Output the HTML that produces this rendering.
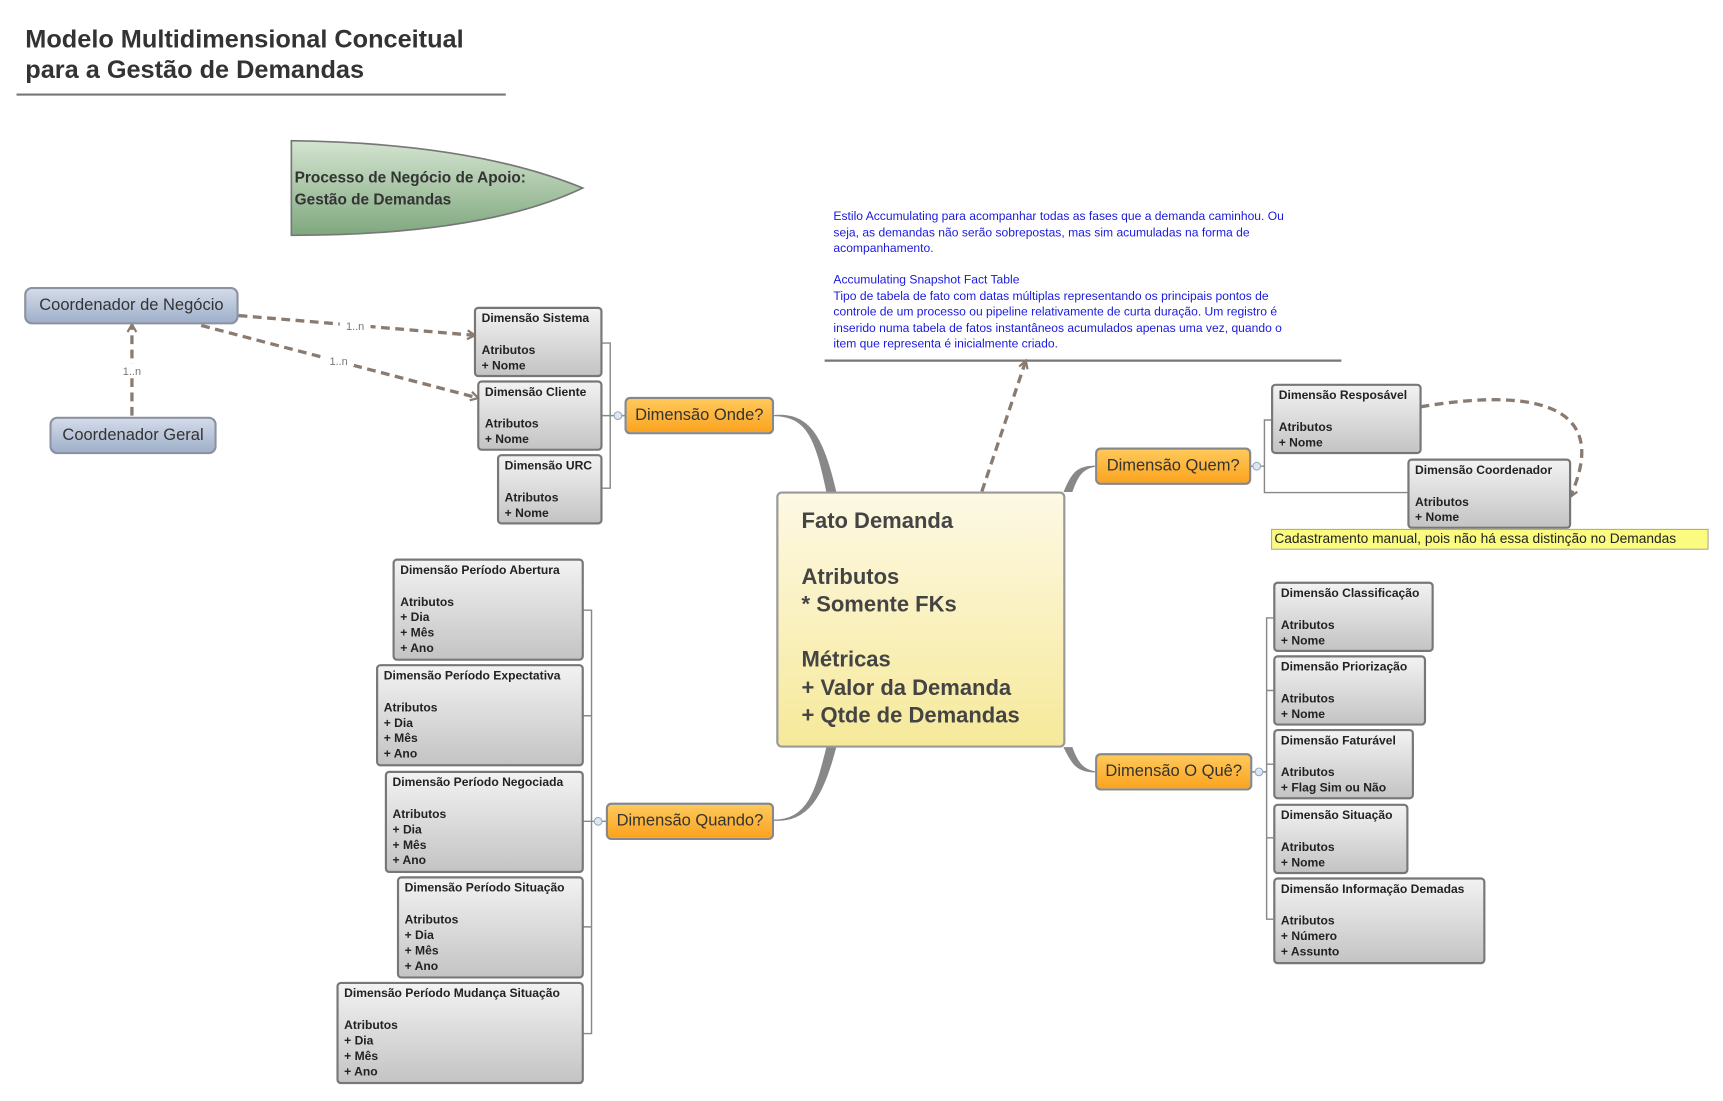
<!DOCTYPE html>
<html><head><meta charset="utf-8">
<style>
html,body{margin:0;padding:0;background:#fff;width:1723px;height:1101px;overflow:hidden}
#w{position:absolute;left:0;top:0;width:1561px;height:997px;transform:scale(1.0995);transform-origin:0 0;font-family:"Liberation Sans",sans-serif}
.a{position:absolute;box-sizing:border-box;white-space:nowrap}
.d{border:2px solid #777;border-radius:4px;background:linear-gradient(#f2f2f2,#c4c4c4);font-size:11px;font-weight:bold;color:#222;padding:2px 5px;line-height:14.3px}
.o{border:2px solid #888;border-radius:5px;background:linear-gradient(#ffc95a,#fba31f);font-size:15px;color:#333;text-align:center;line-height:30px}
.b{border:2px solid #8a92a3;border-radius:7px;background:linear-gradient(#d3dbe8,#9fb0cb);font-size:15px;color:#333;text-align:center;line-height:30px}
svg{position:absolute;left:0;top:0}
</style></head><body><div id="w">
<svg width="1561" height="997" viewBox="0 0 1561 997">
<defs><marker id="ar" markerWidth="10" markerHeight="10" refX="8" refY="5" orient="auto" markerUnits="userSpaceOnUse"><path d="M1,1 L8,5 L1,9" fill="none" stroke="#8a7b70" stroke-width="2"/></marker>
<linearGradient id="g" x1="0" y1="0" x2="0" y2="1"><stop offset="0" stop-color="#d4e4d0"/><stop offset="1" stop-color="#7fa87e"/></linearGradient></defs>
<line x1="15" y1="86" x2="460" y2="86" stroke="#777" stroke-width="2"/>
<path d="M265,128 Q430,130 530,171 Q440,214 265,214 Z" fill="url(#g)" stroke="#777" stroke-width="1.5"/>
<line x1="750" y1="328" x2="1220" y2="328" stroke="#777" stroke-width="2"/>
<g fill="none" stroke="#8a7b70" stroke-width="3" stroke-dasharray="8,5">
<path d="M217,287 L432,305" marker-end="url(#ar)"/>
<path d="M183,296 L435,362" marker-end="url(#ar)"/>
<path d="M120,378 L120,295" marker-end="url(#ar)"/>
<path d="M893,447 L933,328" marker-end="url(#ar)"/>
<path d="M1292,370 C1380,355 1470,360 1428,452" marker-end="url(#ar)"/>
</g>
<rect x="309" y="290" width="28" height="11" fill="#fff"/><rect x="294" y="322" width="28" height="11" fill="#fff"/><rect x="109" y="331" width="22" height="11" fill="#fff"/>
<g font-family="Liberation Sans,sans-serif" font-size="10" fill="#777" text-anchor="middle">
<text x="323" y="300">1..n</text><text x="308" y="332">1..n</text><text x="120" y="341">1..n</text>
</g>
<g fill="#888" stroke="#888">
<path d="M703,378 C735,378 742,400 752,447 L760,447 C748,395 735,375 703,378Z"/>
<path d="M703,746 C735,746 742,720 752,680 L760,680 C748,725 735,748 703,746Z"/>
<path d="M996,424 C980,424 975,430 968,447 L975,447 C980,432 985,426 996,424Z"/>
<path d="M996,702 C980,702 975,695 968,680 L975,680 C980,694 985,700 996,702Z"/>
</g>
<g fill="none" stroke="#888" stroke-width="1.3">
<path d="M547,312 L555,312 L555,444 L547,444 M547,378 L568,378"/>
<path d="M530,555 L538,555 L538,940 L530,940 M530,651 L538,651 M530,747 L551,747 M530,843 L538,843"/>
<path d="M1156,382 L1150,382 L1150,448 L1280,448 M1137,424 L1150,424"/>
<path d="M1158,562 L1152,562 L1152,836 L1158,836 M1152,628 L1158,628 M1152,695 L1158,695 M1152,762 L1158,762 M1138,702 L1152,702"/>
</g>
<g fill="#dde6f5" stroke="#9ab" stroke-width="1"><circle cx="562" cy="378" r="3.5"/><circle cx="544" cy="747" r="3.5"/><circle cx="1143" cy="424" r="3.5"/><circle cx="1145" cy="702" r="3.5"/></g>
</svg>
<div class="a" style="left:23px;top:21px;font-size:23px;font-weight:bold;color:#333;line-height:28px">Modelo Multidimensional Conceitual<br>para a Gestão de Demandas</div>
<div class="a" style="left:268px;top:151px;font-size:14px;font-weight:bold;color:#333;line-height:20px">Processo de Negócio de Apoio:<br>Gestão de Demandas</div>
<div class="a b" style="left:22px;top:261px;width:195px;height:34px">Coordenador de Negócio</div>
<div class="a b" style="left:45px;top:379px;width:152px;height:34px">Coordenador Geral</div>
<div class="a" style="left:758px;top:190px;font-size:11px;color:#1a1adf;line-height:14.5px">Estilo Accumulating para acompanhar todas as fases que a demanda caminhou. Ou<br>seja, as demandas não serão sobrepostas, mas sim acumuladas na forma de<br>acompanhamento.<br><br>Accumulating Snapshot Fact Table<br>Tipo de tabela de fato com datas múltiplas representando os principais pontos de<br>controle de um processo ou pipeline relativamente de curta duração. Um registro é<br>inserido numa tabela de fatos instantâneos acumulados apenas uma vez, quando o<br>item que representa é inicialmente criado.</div>
<div class="a d" style="left:431px;top:279px;width:117px;height:64px">Dimensão Sistema<br><br>Atributos<br>+ Nome</div>
<div class="a d" style="left:434px;top:346px;width:114px;height:64px">Dimensão Cliente<br><br>Atributos<br>+ Nome</div>
<div class="a d" style="left:452px;top:413px;width:96px;height:64px">Dimensão URC<br><br>Atributos<br>+ Nome</div>
<div class="a o" style="left:568px;top:361px;width:136px;height:34px">Dimensão Onde?</div>
<div class="a o" style="left:551px;top:730px;width:153px;height:34px">Dimensão Quando?</div>
<div class="a o" style="left:996px;top:407px;width:142px;height:34px">Dimensão Quem?</div>
<div class="a o" style="left:996px;top:685px;width:143px;height:34px">Dimensão O Quê?</div>
<div class="a" style="left:706px;top:447px;width:263px;height:233px;border:2px solid #999;border-radius:5px;background:linear-gradient(#fdf9e4,#f6e99a);font-size:20px;font-weight:bold;color:#444;padding:13px 0 0 21px;line-height:25.3px">Fato Demanda<br><br>Atributos<br>* Somente FKs<br><br>Métricas<br>+ Valor da Demanda<br>+ Qtde de Demandas</div>
<div class="a d" style="left:357px;top:508px;width:174px;height:93px">Dimensão Período Abertura<br><br>Atributos<br>+ Dia<br>+ Mês<br>+ Ano</div>
<div class="a d" style="left:342px;top:604px;width:189px;height:93px">Dimensão Período Expectativa<br><br>Atributos<br>+ Dia<br>+ Mês<br>+ Ano</div>
<div class="a d" style="left:350px;top:701px;width:181px;height:93px">Dimensão Período Negociada<br><br>Atributos<br>+ Dia<br>+ Mês<br>+ Ano</div>
<div class="a d" style="left:361px;top:797px;width:170px;height:93px">Dimensão Período Situação<br><br>Atributos<br>+ Dia<br>+ Mês<br>+ Ano</div>
<div class="a d" style="left:306px;top:893px;width:225px;height:93px">Dimensão Período Mudança Situação<br><br>Atributos<br>+ Dia<br>+ Mês<br>+ Ano</div>
<div class="a d" style="left:1156px;top:349px;width:137px;height:64px">Dimensão Resposável<br><br>Atributos<br>+ Nome</div>
<div class="a d" style="left:1280px;top:417px;width:149px;height:64px">Dimensão Coordenador<br><br>Atributos<br>+ Nome</div>
<div class="a" style="left:1156px;top:481px;width:398px;height:19px;background:#fbfb80;border:1px solid #aaa;font-size:12.5px;color:#222;line-height:17px;padding-left:2px">Cadastramento manual, pois não há essa distinção no Demandas</div>
<div class="a d" style="left:1158px;top:529px;width:146px;height:64px">Dimensão Classificação<br><br>Atributos<br>+ Nome</div>
<div class="a d" style="left:1158px;top:596px;width:139px;height:64px">Dimensão Priorização<br><br>Atributos<br>+ Nome</div>
<div class="a d" style="left:1158px;top:663px;width:128px;height:64px">Dimensão Faturável<br><br>Atributos<br>+ Flag Sim ou Não</div>
<div class="a d" style="left:1158px;top:731px;width:123px;height:64px">Dimensão Situação<br><br>Atributos<br>+ Nome</div>
<div class="a d" style="left:1158px;top:798px;width:193px;height:79px">Dimensão Informação Demadas<br><br>Atributos<br>+ Número<br>+ Assunto</div>
</div></body></html>
